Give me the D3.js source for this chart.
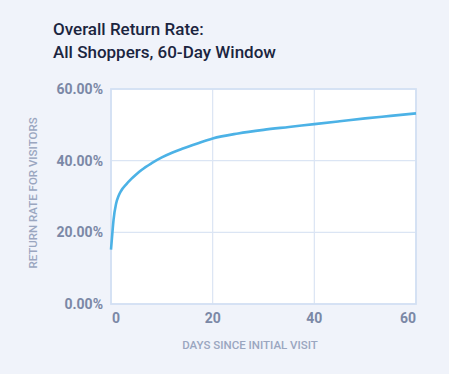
<!DOCTYPE html>
<html>
<head>
<meta charset="utf-8">
<script src="https://cdn.jsdelivr.net/npm/d3@7"></script>
<style>
  html, body { margin: 0; padding: 0; background: #f0f3fa; }
  svg { display: block; font-family: Roboto, "DejaVu Sans", sans-serif; }
</style>
</head>
<body>
<div id="chart"></div>
<script>
(function(){

var width = 449;
var height = 374;

// chart text
var titleLines = ["Overall Return Rate:", "All Shoppers, 60-Day Window"];
var xTitle = "DAYS SINCE INITIAL VISIT";
var yTitle = "RETURN RATE FOR VISITORS";

// tick values
var xTicks = [0, 20, 40, 60];
var yTicks = [0, 20, 40, 60];

// return rate (%) by days since first visit
var days  = [0, 0.25, 0.5, 1, 1.5, 2, 3, 4, 5, 6, 8, 10, 12, 14, 17, 20, 25, 30, 35, 40, 45, 50, 55, 60];
var rates = [15.2, 19.5, 23.5, 28.0, 30.2, 31.6, 33.4, 34.9, 36.2, 37.4, 39.3, 40.9, 42.2, 43.3, 44.8, 46.2, 47.6, 48.6, 49.4, 50.2, 51.0, 51.8, 52.5, 53.2];

var data = days.map(function(d, i) { return {day: d, rate: rates[i]}; });

var margin = {top: 89, right: 33, bottom: 70, left: 111};

var svg = d3.select("#chart")
  .append("svg")
  .attr("width", width)
  .attr("height", height);

var x = d3.scaleLinear()
    .domain([0, 60])
    .range([margin.left, width - margin.right]);

var y = d3.scaleLinear()
    .domain([0, 60])
    .range([height - margin.bottom, margin.top]);

// title
svg.append("g").selectAll("text")
    .data(titleLines).enter().append("text")
    .attr("x", 53)
    .attr("y", function(d, i) { return 35 + i * 23; })
    .attr("fill", "#1b2540")
    .style("font-size", "17px")
    .style("font-weight", 500)
    .text(function(d) { return d; });

// plot background
svg.append("rect")
    .attr("x", x(0))
    .attr("y", y(60))
    .attr("width", x(60) - x(0))
    .attr("height", y(0) - y(60))
    .attr("fill", "#fff");

// grid lines
svg.append("g").selectAll("line")
    .data(yTicks).enter().append("line")
    .attr("x1", x(0)).attr("x2", x(60))
    .attr("y1", function(d) { return y(d); })
    .attr("y2", function(d) { return y(d); })
    .attr("stroke", "#dbe5f4")
    .attr("stroke-width", 1.2);

svg.append("g").selectAll("line")
    .data(xTicks).enter().append("line")
    .attr("y1", y(0)).attr("y2", y(60))
    .attr("x1", function(d) { return x(d); })
    .attr("x2", function(d) { return x(d); })
    .attr("stroke", "#dbe5f4")
    .attr("stroke-width", 1.2);

// border
svg.append("rect")
    .attr("x", x(0))
    .attr("y", y(60))
    .attr("width", x(60) - x(0))
    .attr("height", y(0) - y(60))
    .attr("fill", "none")
    .attr("stroke", "#d3e0f3")
    .attr("stroke-width", 1.8);

// y tick labels
svg.append("g").selectAll("text")
    .data(yTicks).enter().append("text")
    .attr("x", 103)
    .attr("y", function(d) { return y(d); })
    .attr("dy", "0.35em")
    .attr("text-anchor", "end")
    .attr("fill", "#7b88a6")
    .style("font-size", "14px")
    .style("font-weight", 700)
    .text(function(d) { return d3.format(".2f")(d) + "%"; });

// x tick labels
svg.append("g").selectAll("text")
    .data(xTicks).enter().append("text")
    .attr("x", function(d, i) { return i === 0 ? x(d) + 1 : i === xTicks.length - 1 ? x(d) : x(d); })
    .attr("y", 318)
    .attr("dy", "0.35em")
    .attr("text-anchor", function(d, i) { return i === 0 ? "start" : i === xTicks.length - 1 ? "end" : "middle"; })
    .attr("fill", "#7b88a6")
    .style("font-size", "14px")
    .style("font-weight", 700)
    .text(function(d) { return d; });

// axis titles
svg.append("text")
    .attr("x", 250)
    .attr("y", 345)
    .attr("dy", "0.35em")
    .attr("text-anchor", "middle")
    .attr("fill", "#9aa6c0")
    .style("font-size", "11.5px")
    .style("font-weight", 500)
    .text(xTitle);

svg.append("text")
    .attr("transform", "translate(33," + 193 + ") rotate(-90)")
    .attr("dy", "0.35em")
    .attr("text-anchor", "middle")
    .attr("fill", "#9aa6c0")
    .style("font-size", "11.5px")
    .style("font-weight", 500)
    .text(yTitle);

// the line
var line = d3.line()
    .x(function(d) { return x(d.day); })
    .y(function(d) { return y(d.rate); })
    .curve(d3.curveMonotoneX);

svg.append("path")
    .datum(data)
    .attr("fill", "none")
    .attr("stroke", "#4cb2e6")
    .attr("stroke-width", 2.6)
    .attr("d", line);

})();
</script>
</body>
</html>
